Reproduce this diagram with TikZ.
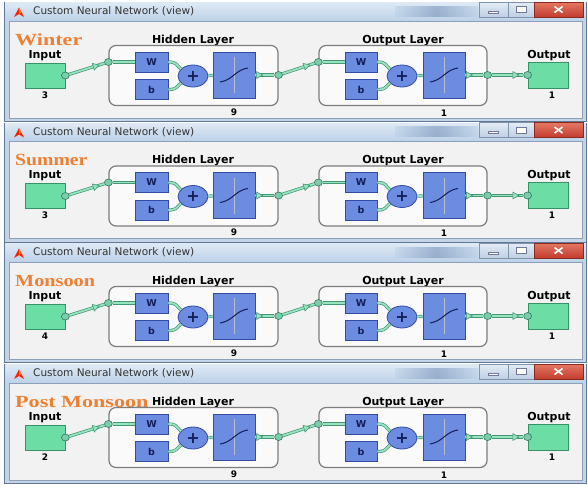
\documentclass[tikz,border=0pt]{standalone}
\usepackage{fontspec}
\setmainfont{DejaVu Sans}
\newfontfamily\seasonfont{Liberation Serif}
\usetikzlibrary{shapes.geometric,decorations.markings,calc}

\definecolor{framecol}{RGB}{196,212,230}
\definecolor{framedark}{RGB}{95,120,150}
\definecolor{tbtop}{RGB}{222,233,245}
\definecolor{tbbot}{RGB}{190,210,232}
\definecolor{tbdark}{RGB}{110,140,180}
\definecolor{contentbg}{RGB}{242,242,242}
\definecolor{contentedge}{RGB}{140,160,185}
\definecolor{gfill}{RGB}{108,222,165}
\definecolor{gborder}{RGB}{55,145,105}
\definecolor{bfill}{RGB}{108,140,225}
\definecolor{bborder}{RGB}{50,75,165}
\definecolor{navy}{RGB}{20,30,90}
\definecolor{conndark}{RGB}{70,150,118}
\definecolor{conninner}{RGB}{150,228,190}
\definecolor{portfill}{RGB}{120,205,170}
\definecolor{layeredge}{RGB}{125,125,125}
\definecolor{layerfill}{RGB}{250,250,250}
\definecolor{seasoncol}{RGB}{238,128,52}
\definecolor{btntop}{RGB}{228,236,246}
\definecolor{btnbot}{RGB}{190,206,226}
\definecolor{closetop}{RGB}{228,120,100}
\definecolor{closebot}{RGB}{195,60,45}

\tikzset{
  gbox/.style={draw=gborder, fill=gfill, line width=0.8pt, inner sep=0pt},
  bbox/.style={draw=bborder, fill=bfill, line width=0.8pt, inner sep=0pt, text=navy,
    font=\bfseries\fontsize{9.5}{10}\selectfont},
  sumnode/.style={ellipse, draw=bborder, fill=bfill, line width=0.8pt, inner sep=0pt,
    minimum width=30pt, minimum height=22pt, text=navy, font=\bfseries\fontsize{16}{16}\selectfont},
  layerbox/.style={draw=layeredge, fill=layerfill, rounded corners=7pt, line width=1.2pt, inner sep=0pt},
  port/.style={ellipse, draw=conndark!80!black, fill=portfill, minimum width=8pt, minimum height=7pt,
    inner sep=0pt, line width=0.6pt},
  conn/.style={draw=conninner, line width=1.8pt, preaction={draw=conndark, line width=3.2pt}},
  arrowat/.style={postaction={decorate, decoration={markings, mark=at position #1 with
    {\filldraw[fill=conninner, draw=conndark, line width=0.6pt] (-3.5pt,-3.4pt) -- (2.5pt,0pt) -- (-3.5pt,3.4pt) -- cycle;}}}},
  lbl/.style={font=\bfseries\fontsize{11}{12}\selectfont, text=black, inner sep=0pt},
  numl/.style={font=\bfseries\fontsize{9}{9}\selectfont, text=black, inner sep=0pt},
  titletxt/.style={font=\fontsize{10.5}{12}\selectfont, text=black!80, inner sep=0pt},
  seasonlbl/.style={font=\seasonfont\bfseries\fontsize{17}{18}\selectfont, text=seasoncol, inner sep=0pt},
  winbtn/.style={draw=framedark!80, top color=btntop, bottom color=btnbot, inner sep=0pt, line width=0.5pt},
  closebtn/.style={draw=closebot!70!black, top color=closetop, bottom color=closebot, inner sep=0pt, line width=0.5pt},
  sigcurve/.style={draw=navy, line width=1pt}
}

\newcommand\drawpanel[5]{%
\begin{scope}[shift={(0,#1)}]
  % window frame
  \fill[framecol] (4,2) rectangle (587,122);
  \shade[top color=tbtop, bottom color=tbbot] (5,2.5) rectangle (586,20);
  \shade[left color=tbbot, right color=tbbot, middle color=tbdark, opacity=0.55] (395,6) rectangle (478,16);
  \draw[framedark, line width=0.8pt] (4.4,2) -- (4.4,121.6) -- (586.6,121.6) -- (586.6,2);
  \fill[contentbg] (9,21) rectangle (582,118);
  \draw[contentedge, line width=0.6pt] (9,21) rectangle (582,118);
  % title bar
  \fill[red!75!orange] (14,17) -- (19,7.5) -- (24,17) -- (19,14) -- cycle;
  \fill[orange!90!yellow] (19,7.5) -- (21,12) -- (19,14) -- cycle;
  \node[titletxt, anchor=west] (title#2) at (33,11.5) {Custom Neural Network (view)};
  \node[winbtn, minimum width=29pt, minimum height=15pt] (bmin#2) at (493.5,9.5) {};
  \node[winbtn, minimum width=26pt, minimum height=15pt] (bmax#2) at (521,9.5) {};
  \node[closebtn, minimum width=49pt, minimum height=15pt] (bcls#2) at (558.5,9.5) {};
  \filldraw[fill=white, draw=navy!60, line width=0.4pt] ($(bmin#2)+(-5,1.5)$) rectangle ($(bmin#2)+(5,3.5)$);
  \filldraw[fill=white, draw=navy!60, line width=0.4pt] ($(bmax#2)+(-5,-3)$) rectangle ($(bmax#2)+(5,3)$);
  \draw[white, line width=1.6pt] ($(bcls#2)+(-4,-3)$) -- ($(bcls#2)+(4,3)$) ($(bcls#2)+(-4,3)$) -- ($(bcls#2)+(4,-3)$);
  % season label
  \node[seasonlbl, anchor=base west] (season#2) at (15,45) {\scalebox{#4}[1]{#3}};
  % input
  \node[lbl, anchor=base] (inl#2) at (45,58) {Input};
  \node[gbox, minimum width=40pt, minimum height=25pt] (inp#2) at (45,75.5) {};
  \node[numl] (inn#2) at (45,95) {#5};
  % hidden layer
  \node[lbl, anchor=base] (hl#2) at (193,43) {Hidden Layer};
  \node[layerbox, minimum width=169pt, minimum height=60pt] (hid#2) at (193.5,75.5) {};
  \node[bbox, minimum width=33pt, minimum height=20pt] (hw#2) at (151.5,62) {W};
  \node[bbox, minimum width=33pt, minimum height=20pt] (hb#2) at (151.5,89.5) {b};
  \node[sumnode] (hs#2) at (193,76) {+};
  \node[bbox, minimum width=42pt, minimum height=46pt] (ht#2) at (234,75) {};
  \draw[navy!30, line width=0.4pt] (234,57) -- (234,93);
  \draw[sigcurve] plot[domain=-1:1, samples=25] ({234+14*\x},{75-7*tanh(1.4*\x)/tanh(1.4)});
  \node[numl] (hn#2) at (234,112) {9};
  % output layer
  \node[lbl, anchor=base] (ol#2) at (403,43) {Output Layer};
  \node[layerbox, minimum width=168pt, minimum height=60pt] (out#2) at (403,75.5) {};
  \node[bbox, minimum width=32pt, minimum height=20pt] (ow#2) at (361,62) {W};
  \node[bbox, minimum width=32pt, minimum height=20pt] (ob#2) at (361,89.5) {b};
  \node[sumnode] (os#2) at (402,76) {+};
  \node[bbox, minimum width=42pt, minimum height=46pt] (ot#2) at (444,75) {};
  \draw[navy!30, line width=0.4pt] (444,57) -- (444,93);
  \draw[sigcurve] plot[domain=-1:1, samples=25] ({444+14*\x},{75-7*tanh(1.4*\x)/tanh(1.4)});
  \node[numl] (on#2) at (444,113) {1};
  % output
  \node[lbl, anchor=base] (outl#2) at (549,58) {Output};
  \node[gbox, minimum width=40pt, minimum height=26pt] (opb#2) at (548,75) {};
  \node[numl] (opn#2) at (552,95) {1};
  % ports
  \node[port] (ip#2) at (inp#2.east) {};
  \node[port] (hin#2) at (hid#2.west |- hw#2) {};
  \node[port] (hout#2) at (hid#2.east |- ht#2) {};
  \node[port] (oin#2) at (out#2.west |- ow#2) {};
  \node[port] (oout#2) at (out#2.east |- ot#2) {};
  \node[port] (opp#2) at (opb#2.west) {};
  % connectors
  \draw[conn, arrowat=0.78] (ip#2) -- (hin#2);
  \draw[conn] (hin#2) -- (hw#2);
  \draw[conn] (hw#2.east) .. controls +(9,0) and +(-5,-4) .. (hs#2.150);
  \draw[conn] (hb#2.east) .. controls +(9,0) and +(-5,4) .. (hs#2.210);
  \draw[conn] (hs#2) -- (ht#2);
  \draw[conn, arrowat=0.25] (ht#2) -- (hout#2);
  \draw[conn, arrowat=0.78] (hout#2) -- (oin#2);
  \draw[conn] (oin#2) -- (ow#2);
  \draw[conn] (ow#2.east) .. controls +(9,0) and +(-5,-4) .. (os#2.150);
  \draw[conn] (ob#2.east) .. controls +(9,0) and +(-5,4) .. (os#2.210);
  \draw[conn] (os#2) -- (ot#2);
  \draw[conn, arrowat=0.25] (ot#2) -- (oout#2);
  \draw[conn, arrowat=0.78] (oout#2) -- (opp#2);
\end{scope}}

\begin{document}
\begin{tikzpicture}[x=1pt, y=-1pt]
  \useasboundingbox (0,0) rectangle (588,488);
  \fill[white] (0,0) rectangle (588,488);
  \drawpanel{0}{a}{Winter}{1.3}{3}
  \drawpanel{120.5}{b}{Summer}{1.16}{3}
  \drawpanel{241}{c}{Monsoon}{1.19}{4}
  \drawpanel{362}{d}{Post Monsoon}{1.3}{2}
\end{tikzpicture}
\end{document}
